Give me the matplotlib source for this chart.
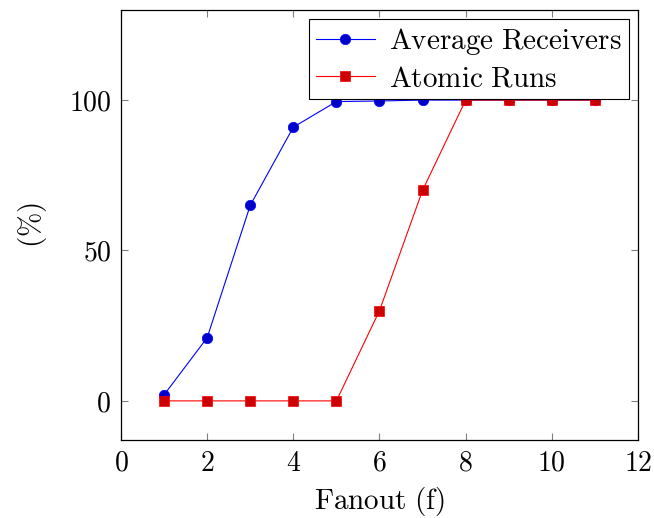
import matplotlib.pyplot as plt

plt.rcParams['mathtext.fontset'] = 'cm'
plt.rcParams['font.family'] = 'serif'

fanout = [1, 2, 3, 4, 5, 6, 7, 8, 9, 10, 11]
avg_receivers = [2, 21, 65, 91, 99.5, 99.7, 100, 100, 100, 100, 100]
atomic_runs = [0, 0, 0, 0, 0, 30, 70, 100, 100, 100, 100]

xticks = [0, 2, 4, 6, 8, 10, 12]
yticks = [0, 50, 100]

fig = plt.figure(figsize=(6.54, 5.18), dpi=100)
ax = fig.add_axes([0.185, 0.1506, 0.7905, 0.8304])

ax.plot(fanout, avg_receivers, color='blue', lw=0.8, marker='o', ms=7.5,
        mfc=(0, 0, 0.8), mec='blue', mew=0.5, label=r'$\mathrm{Average\ Receivers}$')
ax.plot(fanout, atomic_runs, color='red', lw=0.8, marker='s', ms=7.5,
        mfc=(0.8, 0, 0), mec='red', mew=0.5, label=r'$\mathrm{Atomic\ Runs}$')

ax.set_xlim(0, 12)
ax.set_ylim(-13, 130)
ax.set_xticks(xticks)
ax.set_xticklabels([r'$%d$' % v for v in xticks])
ax.set_yticks(yticks)
ax.set_yticklabels([r'$%d$' % v for v in yticks])
ax.tick_params(direction='in', length=5, width=0.8, color='#808080',
               top=True, right=True, labelsize=20, pad=7)
for s in ax.spines.values():
    s.set_linewidth(0.9)

ax.set_xlabel(r'$\mathrm{Fanout\ (f)}$', fontsize=21, labelpad=6)
ax.set_ylabel(r'$(\%)$', fontsize=21, labelpad=14)

leg = ax.legend(loc='upper right', fontsize=21, fancybox=False, framealpha=1,
                edgecolor='black', borderaxespad=0.3, handlelength=2.0,
                borderpad=0.25, labelspacing=0.25, handletextpad=0.5)
leg.get_frame().set_linewidth(0.8)

fig.savefig('out.png', dpi=100)
